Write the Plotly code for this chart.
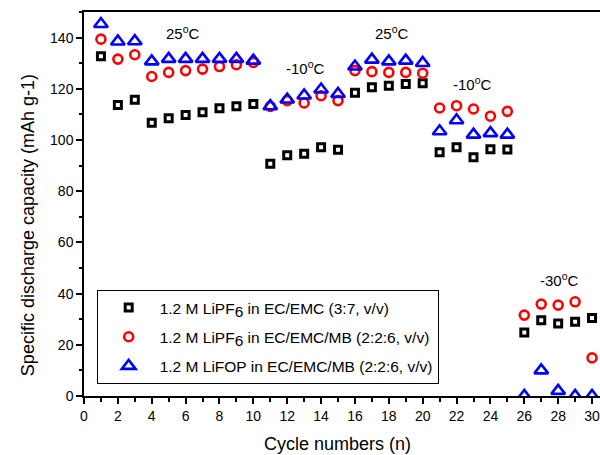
import plotly.graph_objects as go

# Discharge capacity per cycle for three electrolytes
cycles = list(range(1, 31))

cap_lipf6_ec_emc = [132.7, 113.7, 115.7, 106.7, 108.5, 109.8, 110.8, 112.4, 113.2, 114.1,
                    90.7, 94.0, 94.6, 97.2, 96.2, 118.5, 120.6, 121.2, 121.9, 122.2,
                    95.2, 97.2, 93.3, 96.4, 96.3, 24.8, 29.6, 28.3, 29.0, 30.5]

cap_lipf6_mb = [139.4, 131.6, 133.3, 124.8, 126.4, 127.1, 127.7, 128.7, 129.4, 130.3,
                113.1, 115.4, 114.5, 117.3, 115.4, 127.1, 126.7, 126.4, 126.4, 126.1,
                112.5, 113.4, 112.1, 109.3, 111.2, 31.6, 35.9, 35.5, 36.8, 14.9]

cap_lifop_mb = [145.3, 138.5, 138.6, 130.7, 131.7, 131.7, 131.7, 131.7, 131.7, 131.0,
                113.2, 115.8, 117.4, 119.7, 118.0, 128.7, 131.4, 130.7, 131.0, 130.1,
                103.4, 107.7, 102.1, 102.7, 102.1, 0.0, 10.0, 2.0, 0.0, 0.0]

SUB6 = "<sub><span style='font-size:15.5px'>6</span></sub>"
series_names = [
    "1.2 M LiPF" + SUB6 + " in EC/EMC (3:7, v/v)",
    "1.2 M LiPF" + SUB6 + " in EC/EMC/MB (2:2:6, v/v)",
    "1.2 M LiFOP in EC/EMC/MB (2:2:6, v/v)",
]

# Temperature step labels: (x, y, text)
temp_x = [5.85, 13.1, 18.2, 22.95, 28.1]
temp_y = [142.0, 128.4, 142.0, 121.9, 45.5]
temp_text = ["25<sup>o</sup>C", "-10<sup>o</sup>C", "25<sup>o</sup>C", "-10<sup>o</sup>C", "-30<sup>o</sup>C"]

FONT = "Liberation Sans, Arial, sans-serif"

fig = go.Figure()

fig.add_trace(go.Scatter(
    x=cycles, y=cap_lipf6_ec_emc, mode="markers", name=series_names[0], legendgroup="a",
    marker=dict(symbol="square-open", size=7, color="black", line=dict(width=3, color="black")),
))
fig.add_trace(go.Scatter(
    x=cycles, y=cap_lipf6_mb, mode="markers", name=series_names[1], legendgroup="b",
    marker=dict(symbol="circle-open", size=9, color="#ff0000", line=dict(width=2.6, color="#ff0000")),
))
fig.add_trace(go.Scatter(
    x=cycles, y=cap_lifop_mb, mode="markers", name=series_names[2], legendgroup="c",
    marker=dict(symbol="triangle-up-open", size=12, color="#0000ff", line=dict(width=2.6, color="#0000ff")),
))

for tx, ty, tt in zip(temp_x, temp_y, temp_text):
    fig.add_annotation(x=tx, y=ty, xref="x", yref="y", text=tt, showarrow=False,
                       font=dict(family=FONT, size=15, color="black"))

# Axis titles placed as annotations for precise positioning
fig.add_annotation(x=0.491, y=-0.126, xref="paper", yref="paper", text="Cycle numbers (n)",
                   showarrow=False, xanchor="center", yanchor="middle",
                   font=dict(family=FONT, size=18, color="black"))
fig.add_annotation(x=-0.1085, y=0.445, xref="paper", yref="paper",
                   text="Specific discharge capacity (mAh g-1)", textangle=-90,
                   showarrow=False, xanchor="center", yanchor="middle",
                   font=dict(family=FONT, size=18, color="black"))

fig.update_layout(
    width=600, height=455,
    margin=dict(l=84, r=0, t=12, b=59),
    paper_bgcolor="white", plot_bgcolor="white",
    font=dict(family=FONT, size=14, color="black"),
    showlegend=True,
    legend=dict(
        x=0.0246, y=0.276, xanchor="left", yanchor="top",
        bordercolor="black", borderwidth=1, bgcolor="white",
        font=dict(family=FONT, size=15.5, color="black"),
        tracegroupgap=6, itemwidth=52,
    ),
    xaxis=dict(
        range=[0, 30.47], dtick=2, tick0=0,
        showgrid=False, zeroline=False,
        showline=True, linecolor="black", linewidth=1.5, mirror=True,
        ticks="outside", ticklen=6, tickwidth=1.5, tickcolor="black",
        minor=dict(ticks="outside", dtick=1, ticklen=4, tickwidth=1.5, tickcolor="black"),
        tickfont=dict(family=FONT, size=14),
        ticklabeloverflow="allow",
    ),
    yaxis=dict(
        range=[0, 150], dtick=20, tick0=0,
        showgrid=False, zeroline=False,
        showline=True, linecolor="black", linewidth=1.5,
        ticks="outside", ticklen=6, tickwidth=1.5, tickcolor="black",
        minor=dict(ticks="outside", dtick=10, ticklen=3, tickwidth=1.5, tickcolor="black"),
        tickfont=dict(family=FONT, size=14),
    ),
)

fig.write_html("out.html")
